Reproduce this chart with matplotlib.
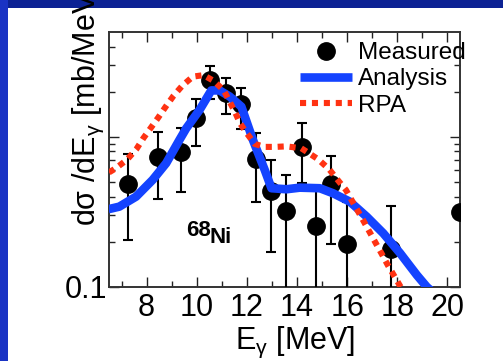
"""
68Ni dipole strength: measured points vs. analysis and RPA curves.

Recreates the slide figure; output is out.png (503x361 px).
"""

import numpy as np
import matplotlib
matplotlib.use("Agg")
import matplotlib.pyplot as plt
from matplotlib.lines import Line2D
from matplotlib.patches import Rectangle
from matplotlib.ticker import FixedLocator, MultipleLocator, NullFormatter, FixedFormatter


# =========================================================
# Data
# =========================================================

meas_e = [7.24, 8.44, 9.37, 9.97, 10.53, 11.15, 11.78, 12.35, 12.98,
          13.55, 14.18, 14.75, 15.35, 15.98, 17.74, 20.5]
meas_val = [0.486, 0.732, 0.798, 1.33, 2.40, 1.95, 1.65, 0.71, 0.437,
            0.323, 0.861, 0.256, 0.484, 0.194, 0.178, 0.318]
meas_hi = [0.767, 1.07, 1.15, 1.80, 2.97, 2.46, 2.12, 1.06, 0.703,
           0.558, 1.23, 0.47, 0.75, 0.37, 0.347, 0.318]
meas_lo = [0.206, 0.384, 0.432, 0.871, 1.80, 1.42, 1.125, 0.37, 0.170,
           0.05, 0.491, 0.05, 0.193, 0.05, 0.05, 0.318]

ana_e = [6.48, 6.91, 7.58, 8.24, 8.78, 9.31, 9.58, 10.11, 10.58, 10.91,
         11.31, 11.78, 12.24, 12.71, 12.98, 13.58, 14.11, 14.91, 15.44,
         16.11, 16.78, 17.44, 18.11, 18.78, 19.18, 19.5]
ana_val = [0.330, 0.343, 0.40, 0.517, 0.668, 0.955, 1.14, 1.51, 2.04, 2.04,
           1.86, 1.59, 0.955, 0.603, 0.455, 0.448, 0.459, 0.455, 0.421,
           0.37, 0.294, 0.228, 0.168, 0.120, 0.10, 0.09]

rpa_e = [6.5, 6.77, 7.21, 7.59, 7.87, 8.17, 8.47, 8.75, 9.07, 9.42, 9.84,
         10.27, 10.68, 11.08, 11.31, 11.53, 11.73, 12.01, 12.31, 12.71,
         13.14, 13.58, 14.17, 14.44, 14.84, 15.28, 15.6, 15.95, 16.19,
         16.44, 16.68, 16.91, 17.14, 17.38, 17.62, 17.87, 18.11, 18.3]
rpa_val = [0.58, 0.618, 0.703, 0.828, 0.98, 1.15, 1.35, 1.58, 1.875, 2.19,
           2.52, 2.58, 2.36, 2.04, 1.72, 1.46, 1.23, 1.05, 0.898, 0.858,
           0.858, 0.865, 0.84, 0.786, 0.71, 0.609, 0.522, 0.443, 0.376,
           0.318, 0.27, 0.230, 0.196, 0.166, 0.140, 0.119, 0.1016, 0.09]

x_ticks = [8, 10, 12, 14, 16, 18, 20]
y_major = [0.1, 1]
y_labels = ["0.1", ""]


# =========================================================
# Style
# =========================================================

plt.rcParams["font.family"] = ["Liberation Sans", "DejaVu Sans"]
plt.rcParams["mathtext.fontset"] = "custom"
plt.rcParams["mathtext.rm"] = "Liberation Sans"
plt.rcParams["mathtext.it"] = "Liberation Sans:italic"

BLUE = "#1443ff"
RED = "#ff3212"

W, H = 503, 361


def px_x(x):
    return x / W


def px_y(y):
    return 1 - y / H


fig = plt.figure(figsize=(W / 100, H / 100), dpi=100)
fig.patch.set_facecolor("#0c2294")

# white slide panel, lighter blue strip on the left
fig.add_artist(Rectangle((0, 0), px_x(8), 1, transform=fig.transFigure,
                         facecolor="#1a33c4", edgecolor="none", zorder=0))
fig.add_artist(Rectangle((px_x(8), 0), 1, px_y(8), transform=fig.transFigure,
                         facecolor="white", edgecolor="none", zorder=0))

ax = fig.add_axes([px_x(109), px_y(287), px_x(460 - 109), (287 - 32) / H])
ax.set_facecolor("none")

# =========================================================
# Series
# =========================================================

meas_e_arr = np.asarray(meas_e)
meas_val_arr = np.asarray(meas_val)
yerr = [meas_val_arr - np.asarray(meas_lo), np.asarray(meas_hi) - meas_val_arr]

ax.errorbar(meas_e_arr, meas_val_arr, yerr=yerr, fmt="o",
            color="black", ms=12.5, ecolor="black", elinewidth=1.5,
            capsize=3.8, capthick=1.5, zorder=3)
h_ana, = ax.plot(ana_e, ana_val, color=BLUE, lw=6.2, solid_capstyle="butt",
                 label="Analysis", zorder=4)
h_rpa, = ax.plot(rpa_e, rpa_val, color=RED, lw=4.4, linestyle=(0, (1, 0.95)),
                 dash_capstyle="butt", label="RPA", zorder=5)

# legend entry for the points: marker only, no error bar
h_meas = Line2D([], [], linestyle="none", marker="o", color="black",
                ms=12.5, label="Measured")

# =========================================================
# Axes
# =========================================================

ax.set_yscale("log")
ax.set_xlim(6.5, 20.5)
ax.set_ylim(0.1, 5)

ax.xaxis.set_major_locator(FixedLocator(x_ticks))
ax.xaxis.set_minor_locator(MultipleLocator(1))
ax.yaxis.set_major_locator(FixedLocator(y_major))
ax.yaxis.set_major_formatter(FixedFormatter(y_labels))
ax.yaxis.set_minor_locator(FixedLocator([0.2, 0.3, 0.4, 0.5, 0.6, 0.7, 0.8,
                                         0.9, 2, 3, 4]))
ax.yaxis.set_minor_formatter(NullFormatter())

ax.tick_params(which="both", direction="in", top=True, right=True,
               width=1.0, color="#222222", labelsize=22, pad=4)
ax.tick_params(which="major", length=7)
ax.tick_params(which="minor", length=4)
ax.tick_params(axis="y", pad=1)
for side in ax.spines.values():
    side.set_linewidth(1.4)
    side.set_color("#333333")

ax.set_xlabel(r"E$_{\mathrm{\gamma}}$ [MeV]", fontsize=22, labelpad=0)
ax.xaxis.set_label_coords(0.53, -0.15)

fig.text(px_x(88), px_y(226), r"dσ /dE$_{\mathrm{\gamma}}$ [mb/MeV]",
         rotation=90, ha="center", va="bottom", fontsize=22)

ax.text(0.254, 0.222, "68", transform=ax.transAxes, fontsize=16,
        fontweight="bold", ha="center", va="center")
ax.text(0.318, 0.193, "Ni", transform=ax.transAxes, fontsize=16,
        fontweight="bold", ha="center", va="center")

ax.legend(handles=[h_meas, h_ana, h_rpa],
          loc="upper left", bbox_to_anchor=((300 - 109) / 351, 0.96),
          frameon=False, fontsize=17.5, handlelength=2.15,
          handletextpad=0.25, labelspacing=0.17, borderpad=0,
          borderaxespad=0, markerscale=1.0)

fig.savefig("out.png", dpi=100)
